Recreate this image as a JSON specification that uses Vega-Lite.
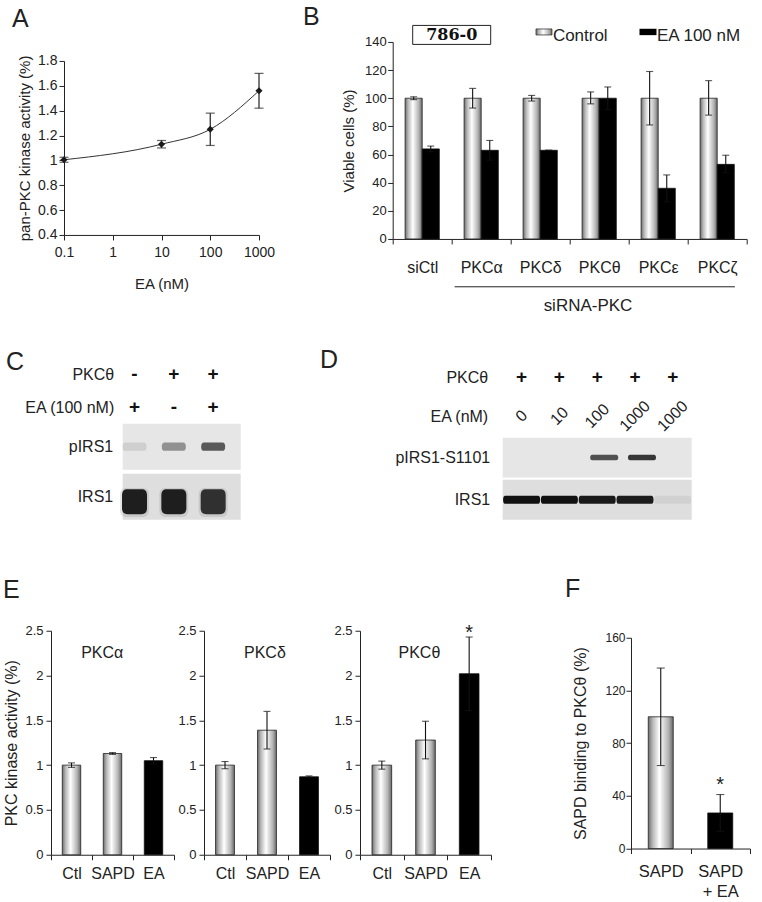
{
"$schema": "https://vega.github.io/schema/vega-lite/v6.json",
"background": "white",
"padding": {"left": 0, "top": 4.95, "right": 0, "bottom": 0},
"config": {
  "view": {"stroke": null},
  "font": "Liberation Sans",
  "axis": {"grid": false, "domainColor": "#222", "tickColor": "#222", "labelColor": "#222", "titleColor": "#222", "labelFont": "Liberation Sans", "titleFont": "Liberation Sans", "titleFontWeight": "normal", "tickSize": 5, "domainWidth": 1, "tickWidth": 1, "labelOverlap": false, "labelFlush": false},
  "title": {"fontSize": 25, "fontWeight": "normal", "font": "Liberation Sans", "color": "#222", "anchor": "start", "frame": "bounds"},
  "text": {"font": "Liberation Sans", "color": "#222"}
},
"spacing": 32.7,
"vconcat": [
 {"hconcat": [
  {"hconcat": [
   {"width": 1, "height": 1, "data": {"values": []}, "mark": "point"},
   {"vconcat": [
     {"width": 1, "height": 11.6, "title": {"text": "A", "offset": 9.45, "dx": -52, "frame": "group"}, "data": {"values": []}, "mark": "point"},
     {
      "width": 195, "height": 174,
      "data": {"values": [{"ea": 0.1, "act": 1.005, "err": 0.02}, {"ea": 10, "act": 1.13, "err": 0.03}, {"ea": 100, "act": 1.25, "err": 0.13}, {"ea": 1000, "act": 1.56, "err": 0.14}]},
      "encoding": {
        "x": {"field": "ea", "type": "quantitative", "title": "EA (nM)", "scale": {"type": "log", "domain": [0.1, 1000]}, "axis": {"values": [0.1, 1, 10, 100, 1000], "labelExpr": "'' + datum.value", "labelFontSize": 14, "labelPadding": 5.5, "titlePadding": 17, "titleFontSize": 15, "labelOverlap": false, "labelFlush": false}},
        "y": {"field": "act", "type": "quantitative", "title": "pan-PKC kinase activity (%)", "scale": {"domain": [0.4, 1.8], "nice": false, "zero": false}, "axis": {"values": [0.4, 0.6, 0.8, 1, 1.2, 1.4, 1.6, 1.8], "format": "~g", "labelFontSize": 14, "labelPadding": 2, "titlePadding": 5, "titleFontSize": 15, "labelOverlap": false, "labelBound": false}}
      },
      "layer": [
        {"mark": {"type": "line", "interpolate": "monotone", "color": "#333", "strokeWidth": 1}},
        {"mark": {"type": "errorbar", "ticks": {"size": 9}, "color": "#222", "thickness": 1.2}, "encoding": {"yError": {"field": "err"}}},
        {"mark": {"type": "point", "shape": "diamond", "filled": true, "color": "#1a1a1a", "size": 50, "opacity": 1}}
      ]
     }
   ], "spacing": 0}
  ], "spacing": 11},
  {
   "title": {"text": "B", "offset": -7.05, "dx": -38.5},
   "width": 354, "height": 197,
   "layer": [
    {
     "data": {"values": [
       {"grp": "siCtl", "cond": "Control", "v": 100, "lo": 99, "hi": 101},
       {"grp": "siCtl", "cond": "EA 100 nM", "v": 64, "lo": 62, "hi": 66},
       {"grp": "PKCα", "cond": "Control", "v": 100, "lo": 93, "hi": 107},
       {"grp": "PKCα", "cond": "EA 100 nM", "v": 63, "lo": 56, "hi": 70},
       {"grp": "PKCδ", "cond": "Control", "v": 100, "lo": 98, "hi": 102},
       {"grp": "PKCδ", "cond": "EA 100 nM", "v": 63, "lo": 63, "hi": 63},
       {"grp": "PKCθ", "cond": "Control", "v": 100, "lo": 96, "hi": 104.5},
       {"grp": "PKCθ", "cond": "EA 100 nM", "v": 100, "lo": 92, "hi": 108},
       {"grp": "PKCε", "cond": "Control", "v": 100, "lo": 81, "hi": 119},
       {"grp": "PKCε", "cond": "EA 100 nM", "v": 36, "lo": 26.5, "hi": 45.5},
       {"grp": "PKCζ", "cond": "Control", "v": 100, "lo": 88, "hi": 112.5},
       {"grp": "PKCζ", "cond": "EA 100 nM", "v": 53, "lo": 47, "hi": 59.5}
     ]},
     "encoding": {
       "x": {"field": "grp", "type": "nominal", "title": null, "scale": {"domain": ["siCtl", "PKCα", "PKCδ", "PKCθ", "PKCε", "PKCζ"], "paddingInner": 0, "paddingOuter": 0}, "axis": {"tickBand": "extent", "labelAngle": 0, "labelFontSize": 16, "labelPadding": 16, "labelOverlap": false}},
       "xOffset": {"field": "cond", "type": "nominal", "scale": {"domain": ["Control", "EA 100 nM"], "paddingInner": 0, "paddingOuter": 0.725}}
     },
     "layer": [
       {"transform": [{"filter": "datum.cond === 'Control'"}],
        "mark": {"type": "bar", "stroke": "#222", "strokeWidth": 0.8, "color": {"gradient": "linear", "x1": 0, "y1": 0, "x2": 1, "y2": 0, "stops": [{"offset": 0, "color": "#6e6e6e"}, {"offset": 0.18, "color": "#b8b8b8"}, {"offset": 0.45, "color": "#ffffff"}, {"offset": 0.8, "color": "#b4b4b4"}, {"offset": 1, "color": "#6a6a6a"}]}},
        "encoding": {
          "y": {"field": "v", "type": "quantitative", "title": "Viable cells (%)", "scale": {"domain": [0, 140], "nice": false}, "axis": {"values": [0, 20, 40, 60, 80, 100, 120, 140], "labelFontSize": 13, "labelPadding": 1.5, "titlePadding": 8, "titleFontSize": 15, "labelOverlap": false, "labelBound": false}}
        }},
       {"transform": [{"filter": "datum.cond !== 'Control'"}],
        "mark": {"type": "bar", "stroke": "#111", "strokeWidth": 0.8, "color": "#000000"},
        "encoding": {"y": {"field": "v", "type": "quantitative", "title": "Viable cells (%)", "axis": {"values": [0, 20, 40, 60, 80, 100, 120, 140], "labelFontSize": 13, "labelPadding": 1.5, "titlePadding": 8, "titleFontSize": 15, "labelOverlap": false, "labelBound": false}}}},
       {"mark": {"type": "rule", "color": "#111", "strokeWidth": 1.1}, "encoding": {"y": {"field": "lo", "type": "quantitative", "title": "Viable cells (%)", "axis": {"values": [0, 20, 40, 60, 80, 100, 120, 140], "labelFontSize": 13, "labelPadding": 1.5, "titlePadding": 8, "titleFontSize": 15, "labelOverlap": false, "labelBound": false}}, "y2": {"field": "hi"}}},
       {"mark": {"type": "tick", "color": "#111", "thickness": 1.1, "size": 7}, "encoding": {"y": {"field": "hi", "type": "quantitative", "title": "Viable cells (%)", "axis": {"values": [0, 20, 40, 60, 80, 100, 120, 140], "labelFontSize": 13, "labelPadding": 1.5, "titlePadding": 8, "titleFontSize": 15, "labelOverlap": false, "labelBound": false}}}},
       {"mark": {"type": "tick", "color": "#111", "thickness": 1.1, "size": 7}, "encoding": {"y": {"field": "lo", "type": "quantitative", "title": "Viable cells (%)", "axis": {"values": [0, 20, 40, 60, 80, 100, 120, 140], "labelFontSize": 13, "labelPadding": 1.5, "titlePadding": 8, "titleFontSize": 15, "labelOverlap": false, "labelBound": false}}}}
     ]
    },
    {"data": {"values": [{"label": "786-0"}]}, "mark": {"type": "point", "shape": "M-1,-0.2436H1V0.2436H-1Z", "size": 6084, "filled": true, "fill": "white", "stroke": "#222", "strokeWidth": 1, "opacity": 1},
     "encoding": {"x": {"datum": "PKCα", "type": "nominal", "bandPosition": 0}, "y": {"datum": 145, "type": "quantitative", "title": "Viable cells (%)", "axis": {"values": [0, 20, 40, 60, 80, 100, 120, 140], "labelFontSize": 13, "labelPadding": 1.5, "titlePadding": 8, "titleFontSize": 15, "labelOverlap": false, "labelBound": false}}}},
    {"data": {"values": [{"label": "786-0"}]}, "mark": {"type": "text", "font": "DejaVu Serif", "fontWeight": "bold", "fontSize": 16, "color": "#111"},
     "encoding": {"x": {"datum": "PKCα", "type": "nominal", "bandPosition": 0}, "y": {"datum": 145, "type": "quantitative", "title": "Viable cells (%)", "axis": {"values": [0, 20, 40, 60, 80, 100, 120, 140], "labelFontSize": 13, "labelPadding": 1.5, "titlePadding": 8, "titleFontSize": 15, "labelOverlap": false, "labelBound": false}}, "text": {"field": "label"}}},
    {"data": {"values": [{"label": "Control"}]}, "mark": {"type": "point", "shape": "M-1,-0.375H1V0.375H-1Z", "size": 256, "filled": true, "opacity": 1, "stroke": "#222", "strokeWidth": 0.7, "color": {"gradient": "linear", "x1": 0, "y1": 0, "x2": 1, "y2": 0, "stops": [{"offset": 0, "color": "#6e6e6e"}, {"offset": 0.18, "color": "#b8b8b8"}, {"offset": 0.45, "color": "#ffffff"}, {"offset": 0.8, "color": "#b4b4b4"}, {"offset": 1, "color": "#6a6a6a"}]}},
     "encoding": {"x": {"datum": "PKCδ", "type": "nominal", "bandPosition": 0.564}, "y": {"datum": 147.1, "type": "quantitative", "title": "Viable cells (%)", "axis": {"values": [0, 20, 40, 60, 80, 100, 120, 140], "labelFontSize": 13, "labelPadding": 1.5, "titlePadding": 8, "titleFontSize": 15, "labelOverlap": false, "labelBound": false}}}},
    {"data": {"values": [{"label": "Control"}]}, "mark": {"type": "text", "fontSize": 17, "align": "left", "color": "#222"},
     "encoding": {"x": {"datum": "PKCδ", "type": "nominal", "bandPosition": 0.715}, "y": {"datum": 144.2, "type": "quantitative", "title": "Viable cells (%)", "axis": {"values": [0, 20, 40, 60, 80, 100, 120, 140], "labelFontSize": 13, "labelPadding": 1.5, "titlePadding": 8, "titleFontSize": 15, "labelOverlap": false, "labelBound": false}}, "text": {"field": "label"}}},
    {"data": {"values": [{"label": "EA 100 nM"}]}, "mark": {"type": "point", "shape": "M-1,-0.375H1V0.375H-1Z", "size": 289, "filled": true, "opacity": 1, "color": "#000000"},
     "encoding": {"x": {"datum": "PKCε", "type": "nominal", "bandPosition": 0.327}, "y": {"datum": 147.1, "type": "quantitative", "title": "Viable cells (%)", "axis": {"values": [0, 20, 40, 60, 80, 100, 120, 140], "labelFontSize": 13, "labelPadding": 1.5, "titlePadding": 8, "titleFontSize": 15, "labelOverlap": false, "labelBound": false}}}},
    {"data": {"values": [{"label": "EA 100 nM"}]}, "mark": {"type": "text", "fontSize": 17, "align": "left", "color": "#222"},
     "encoding": {"x": {"datum": "PKCε", "type": "nominal", "bandPosition": 0.48}, "y": {"datum": 144.2, "type": "quantitative", "title": "Viable cells (%)", "axis": {"values": [0, 20, 40, 60, 80, 100, 120, 140], "labelFontSize": 13, "labelPadding": 1.5, "titlePadding": 8, "titleFontSize": 15, "labelOverlap": false, "labelBound": false}}, "text": {"field": "label"}}},
    {"data": {"values": [{"label": "siRNA-PKC"}]}, "mark": {"type": "rule", "color": "#222", "strokeWidth": 1},
     "encoding": {"x": {"datum": "PKCα", "type": "nominal", "bandPosition": 0.05}, "x2": {"datum": "PKCζ", "bandPosition": 0.8}, "y": {"datum": -34, "type": "quantitative", "title": "Viable cells (%)", "axis": {"values": [0, 20, 40, 60, 80, 100, 120, 140], "labelFontSize": 13, "labelPadding": 1.5, "titlePadding": 8, "titleFontSize": 15, "labelOverlap": false, "labelBound": false}}}},
    {"data": {"values": [{"label": "siRNA-PKC"}]}, "mark": {"type": "text", "fontSize": 17, "color": "#222"},
     "encoding": {"x": {"datum": "PKCθ", "type": "nominal", "bandPosition": 0.31}, "y": {"datum": -47.8, "type": "quantitative", "title": "Viable cells (%)", "axis": {"values": [0, 20, 40, 60, 80, 100, 120, 140], "labelFontSize": 13, "labelPadding": 1.5, "titlePadding": 8, "titleFontSize": 15, "labelOverlap": false, "labelBound": false}}, "text": {"field": "label"}}}
   ]
  }
 ], "spacing": 27.7},
 {"vconcat": [
  {"hconcat": [
   {"hconcat": [
    {"width": 1, "height": 1, "data": {"values": []}, "mark": "point"},
    {"bounds": "flush", "spacing": 0, "vconcat": [
     {
      "title": {"text": "C", "offset": -17.85, "dx": -17.9},
      "width": 118, "height": 66,
      "data": {"values": [
        {"lane": "1", "row": "PKCθ", "sym": "-"}, {"lane": "2", "row": "PKCθ", "sym": "+"}, {"lane": "3", "row": "PKCθ", "sym": "+"},
        {"lane": "1", "row": "EA (100 nM)", "sym": "+"}, {"lane": "2", "row": "EA (100 nM)", "sym": "-"}, {"lane": "3", "row": "EA (100 nM)", "sym": "+"}
      ]},
      "mark": {"type": "text", "fontSize": 19, "fontWeight": "bold", "color": "#111"},
      "encoding": {
        "x": {"field": "lane", "type": "nominal", "scale": {"paddingInner": 0, "paddingOuter": 0.26, "align": 0.3}, "axis": null},
        "y": {"field": "row", "type": "nominal", "scale": {"domain": ["PKCθ", "EA (100 nM)"], "paddingInner": 0, "paddingOuter": 0}, "axis": {"domain": false, "ticks": false, "title": null, "labelFontSize": 16, "labelPadding": 9}},
        "text": {"field": "sym"}
      }
     },
     {
      "width": 118, "height": 96,
      "encoding": {"y": {"field": "row", "type": "nominal", "scale": {"domain": ["pIRS1", "IRS1"], "paddingInner": 0.08, "paddingOuter": 0}, "axis": {"domain": false, "ticks": false, "title": null, "labelFontSize": 16, "labelPadding": 10}}},
      "layer": [
        {"data": {"values": [{"row": "pIRS1"}, {"row": "IRS1"}]}, "mark": {"type": "rect"}, "encoding": {"color": {"field": "row", "type": "nominal", "scale": {"domain": ["pIRS1", "IRS1"], "range": ["#e6e6e6", "#dedede"]}, "legend": null}}},
        {"data": {"values": [{"lane": "1", "row": "pIRS1", "level": 0.12}, {"lane": "2", "row": "pIRS1", "level": 0.45}, {"lane": "3", "row": "pIRS1", "level": 0.75}]},
         "mark": {"type": "point", "shape": "M-0.75,-0.35H0.75C0.95,-0.35 1,-0.2 1,0C1,0.2 0.95,0.35 0.75,0.35H-0.75C-0.95,0.35 -1,0.2 -1,0C-1,-0.2 -0.95,-0.35 -0.75,-0.35Z", "size": 576, "filled": true, "color": "#2a2a2a", "strokeWidth": 0},
         "encoding": {"x": {"field": "lane", "type": "nominal", "scale": {"paddingInner": 0, "paddingOuter": 0.26, "align": 0.3}, "axis": null}, "opacity": {"field": "level", "type": "quantitative", "scale": {"domain": [0, 1], "range": [0, 1]}, "legend": null}}},
        {"data": {"values": [{"lane": "1", "row": "IRS1", "level": 0.95}, {"lane": "2", "row": "IRS1", "level": 0.95}, {"lane": "3", "row": "IRS1", "level": 0.85}]},
         "layer": [
           {"mark": {"type": "point", "shape": "M-0.55,-0.6H0.55C0.85,-0.6 1,-0.45 1,-0.1V0.9C1,1.25 0.85,1.4 0.55,1.4H-0.55C-0.85,1.4 -1,1.25 -1,0.9V-0.1C-1,-0.45 -0.85,-0.6 -0.55,-0.6Z", "size": 841, "filled": true, "color": "#777777", "strokeWidth": 0, "opacity": 0.2}},
           {"mark": {"type": "point", "shape": "M-0.55,-0.6H0.55C0.85,-0.6 1,-0.45 1,-0.1V0.9C1,1.25 0.85,1.4 0.55,1.4H-0.55C-0.85,1.4 -1,1.25 -1,0.9V-0.1C-1,-0.45 -0.85,-0.6 -0.55,-0.6Z", "size": 625, "filled": true, "color": "#151515", "strokeWidth": 0}, "encoding": {"opacity": {"field": "level", "type": "quantitative", "scale": {"domain": [0, 1], "range": [0, 1]}, "legend": null}}}
         ],
         "encoding": {"x": {"field": "lane", "type": "nominal", "scale": {"paddingInner": 0, "paddingOuter": 0.26, "align": 0.3}, "axis": null}}}
      ]
     }
    ]}
   ], "spacing": 4.7},
   {"bounds": "flush", "spacing": 2, "vconcat": [
     {
      "title": {"text": "D", "offset": -15.85, "dx": -109},
      "width": 189, "height": 78,
      "data": {"values": [
        {"lane": "1", "row": "PKCθ", "txt": "+"}, {"lane": "2", "row": "PKCθ", "txt": "+"}, {"lane": "3", "row": "PKCθ", "txt": "+"}, {"lane": "4", "row": "PKCθ", "txt": "+"}, {"lane": "5", "row": "PKCθ", "txt": "+"},
        {"lane": "1", "row": "EA (nM)", "txt": "0"}, {"lane": "2", "row": "EA (nM)", "txt": "10"}, {"lane": "3", "row": "EA (nM)", "txt": "100"}, {"lane": "4", "row": "EA (nM)", "txt": "1000"}, {"lane": "5", "row": "EA (nM)", "txt": "1000"}
      ]},
      "encoding": {
        "x": {"field": "lane", "type": "nominal", "scale": {"paddingInner": 0, "paddingOuter": 0}, "axis": null},
        "y": {"field": "row", "type": "nominal", "scale": {"domain": ["PKCθ", "EA (nM)"], "paddingInner": 0, "paddingOuter": 0}, "axis": {"domain": false, "ticks": false, "title": null, "labelFontSize": 16, "labelPadding": 15}},
        "text": {"field": "txt"}
      },
      "layer": [
        {"transform": [{"filter": "datum.row === 'PKCθ'"}], "mark": {"type": "text", "fontSize": 19, "fontWeight": "bold", "color": "#111"}},
        {"transform": [{"filter": "datum.row === 'EA (nM)'"}], "mark": {"type": "text", "fontSize": 16, "angle": -45, "color": "#222"}}
      ]
     },
     {
      "width": 189, "height": 82,
      "encoding": {"y": {"field": "row", "type": "nominal", "scale": {"domain": ["pIRS1-S1101", "IRS1"], "paddingInner": 0.056, "paddingOuter": 0}, "axis": {"domain": false, "ticks": false, "title": null, "labelFontSize": 16, "labelPadding": 13}}},
      "layer": [
        {"data": {"values": [{"row": "pIRS1-S1101"}, {"row": "IRS1"}]}, "mark": {"type": "rect"}, "encoding": {"color": {"field": "row", "type": "nominal", "scale": {"domain": ["pIRS1-S1101", "IRS1"], "range": ["#e6e6e6", "#e0e0e0"]}, "legend": null}}},
        {"data": {"values": [{"lane": "1", "row": "pIRS1-S1101", "level": 0}, {"lane": "2", "row": "pIRS1-S1101", "level": 0}, {"lane": "3", "row": "pIRS1-S1101", "level": 0.75}, {"lane": "4", "row": "pIRS1-S1101", "level": 0.88}, {"lane": "5", "row": "pIRS1-S1101", "level": 0}]},
         "mark": {"type": "point", "shape": "M-0.35,-0.2H1.35C1.47,-0.2 1.5,-0.1 1.5,0C1.5,0.1 1.47,0.2 1.35,0.2H-0.35C-0.47,0.2 -0.5,0.1 -0.5,0C-0.5,-0.1 -0.47,-0.2 -0.35,-0.2Z", "size": 784, "filled": true, "color": "#1e1e1e", "strokeWidth": 0},
         "encoding": {"x": {"field": "lane", "type": "nominal", "scale": {"paddingInner": 0, "paddingOuter": 0}, "axis": null}, "opacity": {"field": "level", "type": "quantitative", "scale": {"domain": [0, 1], "range": [0, 1]}, "legend": null}}},
        {"data": {"values": [{"lane": "1", "row": "IRS1", "level": 1}, {"lane": "2", "row": "IRS1", "level": 1}, {"lane": "3", "row": "IRS1", "level": 0.96}, {"lane": "4", "row": "IRS1", "level": 0.95}, {"lane": "5", "row": "IRS1", "level": 0.06}]},
         "mark": {"type": "point", "shape": "M-0.9,-0.22H0.9C0.98,-0.22 1,-0.1 1,0C1,0.1 0.98,0.22 0.9,0.22H-0.9C-0.98,0.22 -1,0.1 -1,0C-1,-0.1 -0.98,-0.22 -0.9,-0.22Z", "size": 1369, "filled": true, "color": "#111111", "strokeWidth": 0},
         "encoding": {"x": {"field": "lane", "type": "nominal", "scale": {"paddingInner": 0, "paddingOuter": 0}, "axis": null}, "opacity": {"field": "level", "type": "quantitative", "scale": {"domain": [0, 1], "range": [0, 1]}, "legend": null}}}
      ]
     }
   ]}
  ], "spacing": 78.7},
  {"hconcat": [
   {"hconcat": [
    {"width": 1, "height": 1, "data": {"values": []}, "mark": "point"},
    {
     "title": {"text": "E", "offset": 21.75, "dx": -0.9},
     "width": 123, "height": 224,
     "layer": [
      {
       "data": {"values": [{"cond": "Ctl", "v": 1.0, "err": 0.025}, {"cond": "SAPD", "v": 1.13, "err": 0.01}, {"cond": "EA", "v": 1.05, "err": 0.035}]},
       "encoding": {
         "x": {"field": "cond", "type": "nominal", "title": null, "scale": {"domain": ["Ctl", "SAPD", "EA"], "paddingInner": 0, "paddingOuter": 0}, "axis": {"tickBand": "extent", "labelAngle": 0, "labelFontSize": 16, "labelPadding": 6}},
         "y": {"field": "v", "type": "quantitative", "title": "PKC kinase activity (%)", "scale": {"domain": [0, 2.5], "nice": false}, "axis": {"values": [0, 0.5, 1, 1.5, 2, 2.5], "format": "~g", "labelFontSize": 13, "labelPadding": 3, "titlePadding": 5, "titleFontSize": 16, "labelOverlap": false}}
       },
       "layer": [
         {"transform": [{"filter": "datum.cond !== 'EA'"}], "mark": {"type": "bar", "width": {"band": 0.45}, "stroke": "#222", "strokeWidth": 0.8, "color": {"gradient": "linear", "x1": 0, "y1": 0, "x2": 1, "y2": 0, "stops": [{"offset": 0, "color": "#6e6e6e"}, {"offset": 0.18, "color": "#b8b8b8"}, {"offset": 0.45, "color": "#ffffff"}, {"offset": 0.8, "color": "#b4b4b4"}, {"offset": 1, "color": "#6a6a6a"}]}}},
         {"transform": [{"filter": "datum.cond === 'EA'"}], "mark": {"type": "bar", "width": {"band": 0.45}, "stroke": "#111", "strokeWidth": 0.8, "color": "#000000"}},
         {"mark": {"type": "errorbar", "ticks": {"size": 7}, "color": "#111", "thickness": 1.1}, "encoding": {"yError": {"field": "err"}}}
       ]
      },
      {"data": {"values": [{"label": "PKCα"}]}, "mark": {"type": "text", "fontSize": 16, "color": "#222"}, "encoding": {"x": {"datum": "SAPD", "type": "nominal", "bandPosition": 0.25}, "y": {"datum": 2.25, "type": "quantitative"}, "text": {"field": "label"}}}
     ]
    },
    {
     "width": 126, "height": 224,
     "layer": [
      {
       "data": {"values": [{"cond": "Ctl", "v": 1.0, "err": 0.04}, {"cond": "SAPD", "v": 1.39, "err": 0.21}, {"cond": "EA", "v": 0.87, "err": 0.01}]},
       "encoding": {
         "x": {"field": "cond", "type": "nominal", "title": null, "scale": {"domain": ["Ctl", "SAPD", "EA"], "paddingInner": 0, "paddingOuter": 0}, "axis": {"tickBand": "extent", "labelAngle": 0, "labelFontSize": 16, "labelPadding": 6}},
         "y": {"field": "v", "type": "quantitative", "title": null, "scale": {"domain": [0, 2.5], "nice": false}, "axis": {"values": [0, 0.5, 1, 1.5, 2, 2.5], "format": "~g", "labelFontSize": 13, "labelPadding": 3, "labelOverlap": false}}
       },
       "layer": [
         {"transform": [{"filter": "datum.cond !== 'EA'"}], "mark": {"type": "bar", "width": {"band": 0.45}, "stroke": "#222", "strokeWidth": 0.8, "color": {"gradient": "linear", "x1": 0, "y1": 0, "x2": 1, "y2": 0, "stops": [{"offset": 0, "color": "#6e6e6e"}, {"offset": 0.18, "color": "#b8b8b8"}, {"offset": 0.45, "color": "#ffffff"}, {"offset": 0.8, "color": "#b4b4b4"}, {"offset": 1, "color": "#6a6a6a"}]}}},
         {"transform": [{"filter": "datum.cond === 'EA'"}], "mark": {"type": "bar", "width": {"band": 0.45}, "stroke": "#111", "strokeWidth": 0.8, "color": "#000000"}},
         {"mark": {"type": "errorbar", "ticks": {"size": 7}, "color": "#111", "thickness": 1.1}, "encoding": {"yError": {"field": "err"}}}
       ]
      },
      {"data": {"values": [{"label": "PKCδ"}]}, "mark": {"type": "text", "fontSize": 16, "color": "#222"}, "encoding": {"x": {"datum": "SAPD", "type": "nominal", "bandPosition": 0.45}, "y": {"datum": 2.25, "type": "quantitative"}, "text": {"field": "label"}}}
     ]
    },
    {
     "width": 131, "height": 224,
     "layer": [
      {
       "data": {"values": [{"cond": "Ctl", "v": 1.0, "err": 0.045}, {"cond": "SAPD", "v": 1.28, "err": 0.21}, {"cond": "EA", "v": 2.02, "err": 0.41}]},
       "encoding": {
         "x": {"field": "cond", "type": "nominal", "title": null, "scale": {"domain": ["Ctl", "SAPD", "EA"], "paddingInner": 0, "paddingOuter": 0}, "axis": {"tickBand": "extent", "labelAngle": 0, "labelFontSize": 16, "labelPadding": 6}},
         "y": {"field": "v", "type": "quantitative", "title": null, "scale": {"domain": [0, 2.5], "nice": false}, "axis": {"values": [0, 0.5, 1, 1.5, 2, 2.5], "format": "~g", "labelFontSize": 13, "labelPadding": 3, "labelOverlap": false}}
       },
       "layer": [
         {"transform": [{"filter": "datum.cond !== 'EA'"}], "mark": {"type": "bar", "width": {"band": 0.45}, "stroke": "#222", "strokeWidth": 0.8, "color": {"gradient": "linear", "x1": 0, "y1": 0, "x2": 1, "y2": 0, "stops": [{"offset": 0, "color": "#6e6e6e"}, {"offset": 0.18, "color": "#b8b8b8"}, {"offset": 0.45, "color": "#ffffff"}, {"offset": 0.8, "color": "#b4b4b4"}, {"offset": 1, "color": "#6a6a6a"}]}}},
         {"transform": [{"filter": "datum.cond === 'EA'"}], "mark": {"type": "bar", "width": {"band": 0.45}, "stroke": "#111", "strokeWidth": 0.8, "color": "#000000"}},
         {"mark": {"type": "errorbar", "ticks": {"size": 7}, "color": "#111", "thickness": 1.1}, "encoding": {"yError": {"field": "err"}}}
       ]
      },
      {"data": {"values": [{"label": "PKCθ"}]}, "mark": {"type": "text", "fontSize": 16, "color": "#222"}, "encoding": {"x": {"datum": "SAPD", "type": "nominal", "bandPosition": 0.36}, "y": {"datum": 2.25, "type": "quantitative"}, "text": {"field": "label"}}},
      {"data": {"values": [{"label": "*"}]}, "mark": {"type": "text", "fontSize": 20, "color": "#222"}, "encoding": {"x": {"datum": "EA", "type": "nominal"}, "y": {"datum": 2.47, "type": "quantitative"}, "text": {"field": "label"}}}
     ]
    }
   ], "spacing": 2},
   {"vconcat": [
     {"width": 1, "height": 1, "title": {"text": "F", "offset": 28.25, "dx": -66, "frame": "group"}, "data": {"values": []}, "mark": "point"},
     {
      "width": 119, "height": 210.8,
      "layer": [
       {
        "data": {"values": [{"cond": "SAPD", "v": 100, "err": 37}, {"cond": "SAPD + EA", "v": 27, "err": 14}]},
        "encoding": {
          "x": {"field": "cond", "type": "nominal", "title": null, "scale": {"domain": ["SAPD", "SAPD + EA"], "paddingInner": 0, "paddingOuter": 0}, "axis": {"tickBand": "extent", "labelAngle": 0, "labelFontSize": 16.5, "labelPadding": 10, "labelLineHeight": 20, "labelExpr": "datum.value == 'SAPD + EA' ? ['SAPD', '+ EA'] : datum.value"}},
          "y": {"field": "v", "type": "quantitative", "title": "SAPD binding to PKCθ (%)", "scale": {"domain": [0, 160], "nice": false}, "axis": {"values": [0, 40, 80, 120, 160], "labelFontSize": 12, "labelPadding": 1, "titlePadding": 16, "titleFontSize": 16, "labelOverlap": false}}
        },
        "layer": [
          {"transform": [{"filter": "datum.cond === 'SAPD'"}], "mark": {"type": "bar", "width": {"band": 0.42}, "stroke": "#222", "strokeWidth": 0.8, "color": {"gradient": "linear", "x1": 0, "y1": 0, "x2": 1, "y2": 0, "stops": [{"offset": 0, "color": "#6e6e6e"}, {"offset": 0.18, "color": "#b8b8b8"}, {"offset": 0.45, "color": "#ffffff"}, {"offset": 0.8, "color": "#b4b4b4"}, {"offset": 1, "color": "#6a6a6a"}]}}},
          {"transform": [{"filter": "datum.cond !== 'SAPD'"}], "mark": {"type": "bar", "width": {"band": 0.42}, "stroke": "#111", "strokeWidth": 0.8, "color": "#000000"}},
          {"mark": {"type": "errorbar", "ticks": {"size": 8}, "color": "#111", "thickness": 1.1}, "encoding": {"yError": {"field": "err"}}}
        ]
       },
       {"data": {"values": [{"label": "*"}]}, "mark": {"type": "text", "fontSize": 20, "color": "#222"}, "encoding": {"x": {"datum": "SAPD + EA", "type": "nominal"}, "y": {"datum": 48.2, "type": "quantitative"}, "text": {"field": "label"}}}
      ]
     }
   ], "spacing": 0}
  ], "spacing": 73}
 ], "spacing": 57.1}
]
}
